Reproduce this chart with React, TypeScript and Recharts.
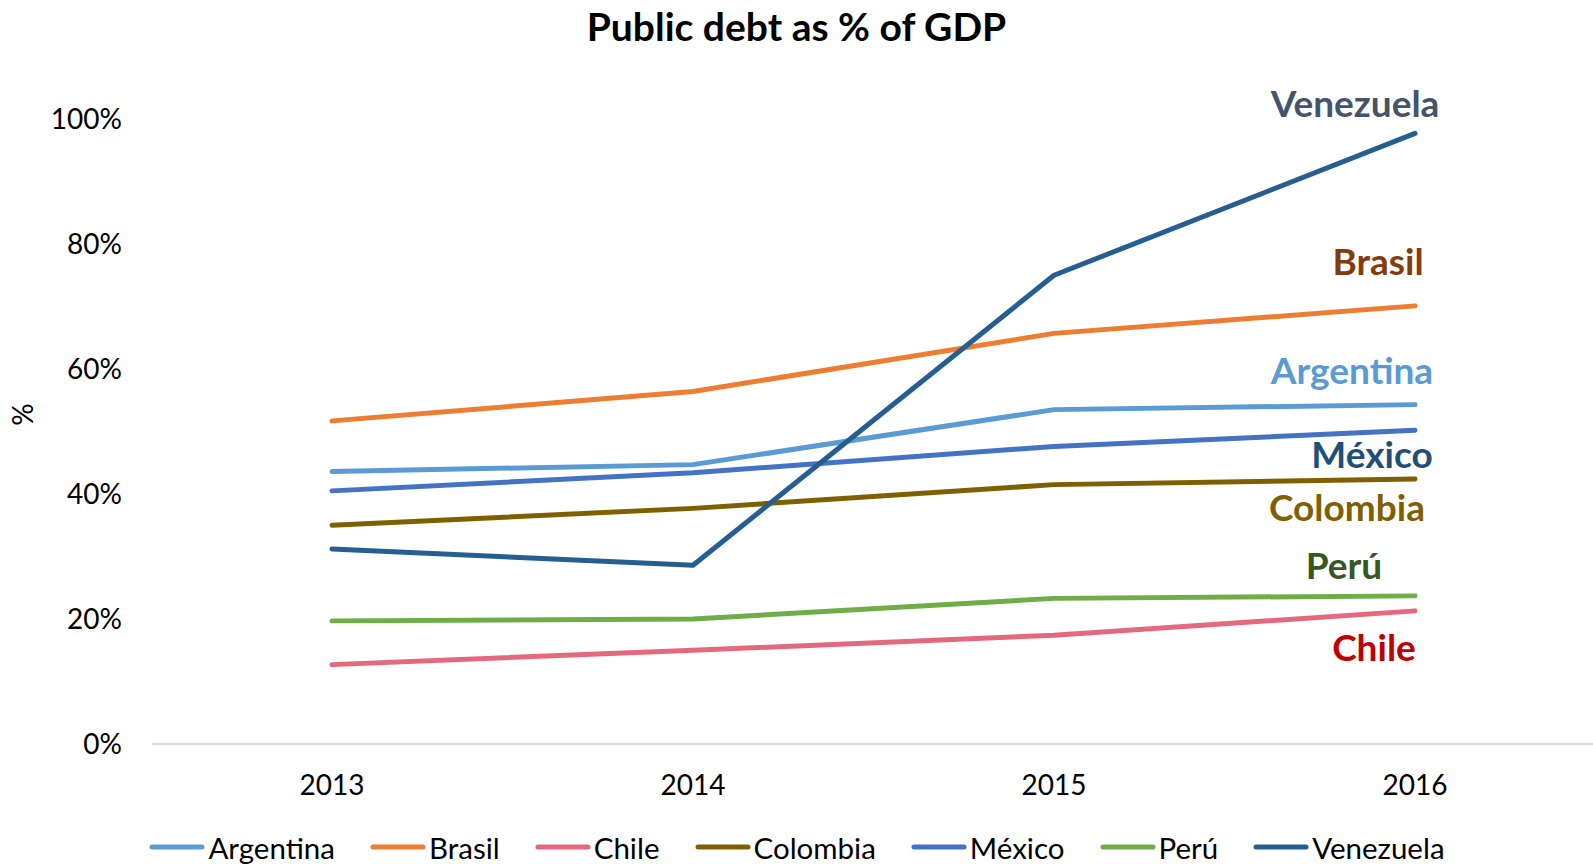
import { LineChart, Line, XAxis, YAxis, Legend, LabelList } from 'recharts';

const years = ['2013', '2014', '2015', '2016'];
const argentina = [43.6, 44.7, 53.5, 54.3];
const brasil = [51.7, 56.4, 65.7, 70.1];
const chile = [12.7, 15.0, 17.4, 21.3];
const colombia = [35.0, 37.7, 41.5, 42.4];
const mexico = [40.5, 43.4, 47.6, 50.2];
const peru = [19.7, 20.0, 23.3, 23.7];
const venezuela = [31.2, 28.6, 75.0, 97.7];
const yTicks = [0, 20, 40, 60, 80, 100];

const data = years.map((year, i) => ({
  year,
  Argentina: argentina[i],
  Brasil: brasil[i],
  Chile: chile[i],
  Colombia: colombia[i],
  México: mexico[i],
  Perú: peru[i],
  Venezuela: venezuela[i],
}));

// line colour, end-label colour and where the end label sits relative to the 2016 point
const series = [
  { key: 'Argentina', color: '#5B9BD5', labelColor: '#5B9BD5', dx: -63, dy: -35 },
  { key: 'Brasil', color: '#ED7D31', labelColor: '#843C0C', dx: -37, dy: -45 },
  { key: 'Chile', color: '#E4697D', labelColor: '#C00000', dx: -41, dy: 36 },
  { key: 'Colombia', color: '#7F6000', labelColor: '#7F6000', dx: -68, dy: 27 },
  { key: 'México', color: '#4472C4', labelColor: '#1F4E79', dx: -43, dy: 23 },
  { key: 'Perú', color: '#70AD47', labelColor: '#375623', dx: -71, dy: -31 },
  { key: 'Venezuela', color: '#255E91', labelColor: '#44546A', dx: -60, dy: -31 },
];

const FONT = 'Lato, "Open Sans", sans-serif';

const LegendContent = () => (
  <div
    style={{
      display: 'flex',
      justifyContent: 'center',
      alignItems: 'center',
      height: 40,
      fontFamily: FONT,
      fontSize: 29.5,
      color: '#000',
      transform: 'translateY(3px)',
    }}
  >
    {series.map((s, i) => (
      <div key={s.key} style={{ display: 'flex', alignItems: 'center', marginLeft: i === 0 ? 0 : 34 }}>
        <svg width={58} height={8} style={{ marginRight: 2 }}>
          <line x1={4} y1={4} x2={54} y2={4} stroke={s.color} strokeWidth={5} strokeLinecap="round" />
        </svg>
        <span>{s.key}</span>
      </div>
    ))}
  </div>
);

const App = () => {
  const last = years.length - 1;
  return (
    <div style={{ position: 'absolute', left: 0, top: 0, width: 1593, height: 864, background: '#fff' }}>
      <div
        style={{
          position: 'absolute',
          top: 0,
          left: 0,
          width: 1593,
          textAlign: 'center',
          lineHeight: '52px',
          fontFamily: FONT,
          fontWeight: 700,
          fontSize: 39,
          color: '#000',
          zIndex: 2,
        }}
      >
        Public debt as % of GDP
      </div>
      <LineChart width={1593} height={864} data={data} margin={{ top: 119, right: 0, bottom: 0, left: 0 }}>
        <XAxis
          dataKey="year"
          height={80}
          padding={{ left: 180, right: 178 }}
          axisLine={{ stroke: '#D9D9D9', strokeWidth: 2 }}
          tickLine={false}
          tickSize={0}
          tickMargin={31}
          tick={{ fontSize: 28, fill: '#000', fontFamily: FONT }}
        />
        <YAxis
          domain={[0, 100]}
          ticks={yTicks}
          width={152}
          axisLine={false}
          tickLine={false}
          tickSize={0}
          tickMargin={30}
          tickFormatter={(v) => `${v}%`}
          tick={{ fontSize: 28, fill: '#000', fontFamily: FONT }}
          label={{
            content: ({ viewBox }: any) => {
              const x = viewBox.x + 22;
              const y = viewBox.y + viewBox.height / 2 - 17;
              return (
                <text
                  x={x}
                  y={y}
                  transform={`rotate(-90 ${x} ${y})`}
                  textAnchor="middle"
                  dominantBaseline="central"
                  fontSize={28}
                  fontFamily={FONT}
                  fill="#000"
                >
                  %
                </text>
              );
            },
          }}
        />
        <Legend verticalAlign="bottom" height={40} content={<LegendContent />} />
        {series.map((s) => (
          <Line
            key={s.key}
            type="linear"
            dataKey={s.key}
            stroke={s.color}
            strokeWidth={5}
            strokeLinecap="round"
            strokeLinejoin="round"
            dot={false}
            activeDot={false}
            isAnimationActive={false}
          >
            <LabelList
              dataKey={s.key}
              content={(p: any) =>
                p.index === last ? (
                  <text
                    x={Number(p.x) + s.dx}
                    y={Number(p.y) + s.dy}
                    textAnchor="middle"
                    dominantBaseline="central"
                    fontSize={37}
                    fontWeight={700}
                    fontFamily={FONT}
                    fill={s.labelColor}
                  >
                    {s.key}
                  </text>
                ) : null
              }
            />
          </Line>
        ))}
      </LineChart>
    </div>
  );
};

export default App;
